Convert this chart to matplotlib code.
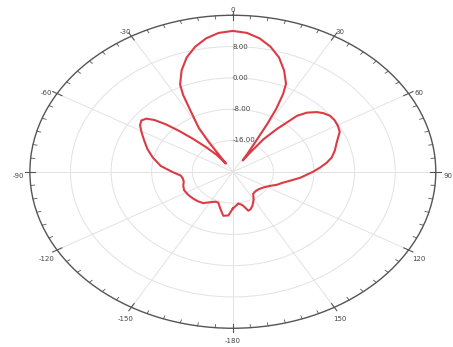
import numpy as np
import matplotlib
matplotlib.use("Agg")
import matplotlib.pyplot as plt
from matplotlib.transforms import offset_copy

# Gain pattern (dB) against angle (deg), 0 at top, clockwise
angle_deg = [-180, -175.5, -170.5, -165.5, -160, -155.5, -150, -144, -138, -131.5,
             -124, -116, -110, -104.5, -100, -95.5, -90, -84, -77, -71,
             -65.5, -60.5, -57, -54, -51.5, -49.5, -47.5, -45.5, -43, -40,
             -36.5, -33, -32.5, -32, -31, -28, -26.5, -25, -21.3, -17.3,
             -13.1, -8.8, -4.5, 0, 4.5, 8.8, 13.1, 17.3, 21.3, 25,
             26.5, 28, 29, 30, 32, 34, 35, 36, 38.5, 41.5,
             44, 47.3, 50, 53.2, 56.5, 60.5, 64.2, 69.5, 75, 79.5,
             83, 86.5, 90, 96.5, 101.5, 106, 111, 116, 122, 128.5,
             134, 139, 144.5, 150, 156, 160, 163, 166.8, 170, 172.5,
             176.5, 180]
gain_db = [-14.6, -12.8, -12.6, -14.2, -15.6, -15.6, -15.0, -14.1, -13.8, -13.6,
           -13.4, -13.3, -13.6, -14.0, -14.0, -13.7, -12.0, -9.7, -7.8, -6.2,
           -4.8, -3.3, -2.2, -1.7, -2.2, -3.6, -6.0, -9.0, -12.5, -15.8,
           -18.6, -21.5, -19.0, -15.0, -11.0, -6.0, -2.0, 0.6, 3.8, 6.6,
           8.8, 10.5, 11.6, 12.0, 11.6, 10.5, 8.8, 6.6, 3.8, 0.8,
           -1.8, -5.8, -10.0, -14.4, -18.5, -20.5, -17.5, -13.7, -10.0, -4.9,
           -3.0, -1.5, -0.7, -0.1, 0.0, -0.2, -0.6, -2.1, -3.2, -4.2,
           -5.4, -6.8, -8.2, -10.6, -12.5, -13.8, -14.7, -15.8, -16.6, -17.1,
           -17.3, -17.3, -17.1, -15.8, -14.5, -13.8, -13.6, -15.1, -15.6, -15.8,
           -15.2, -14.6]

r_ticks = [-16, -8, 0, 8]
theta_ticks = [0, 30, 60, 90, 120, 150, 180, 210, 240, 270, 300, 330]
theta_labels = ["0", "30", "60", "90", "120", "150", "-180",
                "-150", "-120", "-90", "-60", "-30"]
r_min, r_max = -24, 16

fig = plt.figure(figsize=(4.53, 3.47), dpi=100)
ax = fig.add_axes([0.066, 0.054, 0.896, 0.902], projection="polar")
ax.set_aspect("auto")
ax.set_theta_zero_location("N")
ax.set_theta_direction(-1)
ax.set_rlim(r_min, r_max)

theta = np.deg2rad(angle_deg)
ax.plot(theta, gain_db, color="#dc3a44", lw=1.5, zorder=5)

# grid lines every 30 deg, labels set a bit outside the rim
ax.set_xticks(np.deg2rad(theta_ticks))
ax.set_xticklabels([])
span = r_max - r_min
lab_tr = offset_copy(ax.transData, fig=fig, x=0, y=-4, units="dots")
for t, lab in zip(theta_ticks, theta_labels):
    ax.text(np.deg2rad(t), r_min + 1.058 * span, lab, fontsize=5,
            color="#444444", ha="center", va="center", clip_on=False,
            transform=lab_tr)

# tick marks on the rim: long every 30 deg, short every 5 deg
for t in range(0, 360, 5):
    if t % 30 == 0:
        r0, r1, w = r_max - 1.1, r_max + 1.0, 0.8
    else:
        r0, r1, w = r_max - 0.8, r_max, 0.6
    ax.plot([np.deg2rad(t)] * 2, [r0, r1], color="#555555", lw=w,
            clip_on=False, zorder=4)

# radial rings, values written along the 0 direction
ax.set_yticks(r_ticks)
ax.set_yticklabels([])
for r in r_ticks:
    ax.text(np.deg2rad(0.0), r, "%.2f" % r, fontsize=5, color="#444444",
            ha="left", va="center", zorder=6)

ax.grid(True, color="#e2e2e2", lw=0.7)
ax.spines["polar"].set_color("#555555")
ax.spines["polar"].set_linewidth(1.0)

fig.savefig("out.png", dpi=100)
